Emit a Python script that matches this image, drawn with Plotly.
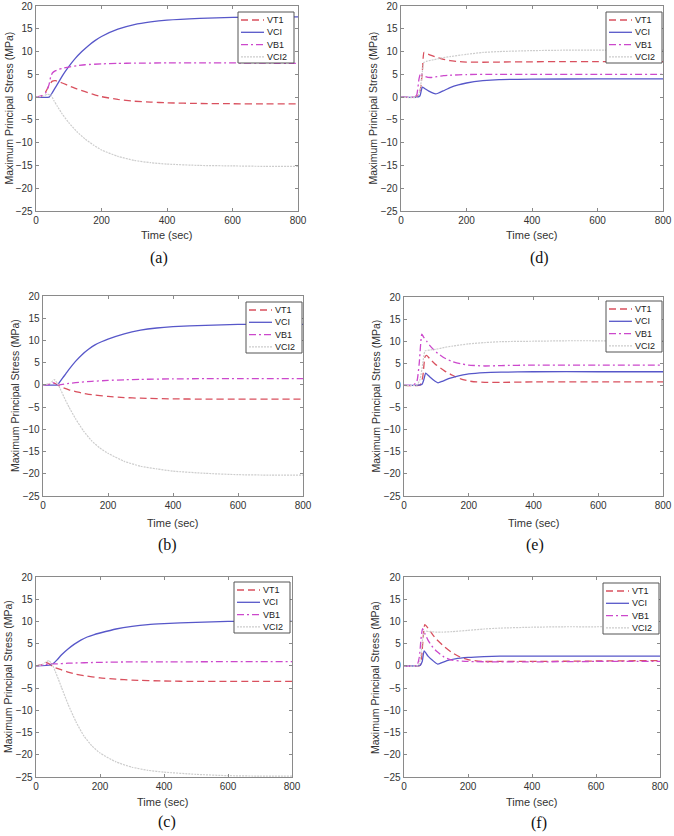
import plotly.graph_objects as go

W, H = 674, 836

# ---------------- data ----------------
series_names = ["VT1", "VCI", "VB1", "VCI2"]
x_ticks = [0, 200, 400, 600, 800]
y_ticks = [-25, -20, -15, -10, -5, 0, 5, 10, 15, 20]
panel_labels = ["(a)", "(b)", "(c)", "(d)", "(e)", "(f)"]

# Panel (a)
a_vt1_t = [0, 20, 30, 40, 50, 60, 80, 100, 125, 150, 175, 200, 250, 300, 350, 400, 500, 600, 700, 800]
a_vt1_v = [0, 0.3, 1.2, 2.6, 3.5, 3.6, 3.1, 2.5, 1.8, 1.2, 0.6, 0.1, -0.5, -0.9, -1.1, -1.25, -1.4, -1.45, -1.5, -1.5]
a_vci_t = [0, 40, 50, 60, 70, 80, 90, 100, 120, 140, 160, 180, 200, 250, 300, 350, 400, 500, 600, 700, 800]
a_vci_v = [0, 0, 1.0, 2.2, 3.4, 4.6, 5.7, 6.7, 8.5, 10.0, 11.3, 12.4, 13.3, 14.9, 15.9, 16.5, 16.9, 17.3, 17.5, 17.55, 17.6]
a_vb1_t = [0, 15, 30, 40, 45, 50, 60, 70, 80, 100, 125, 150, 200, 250, 300, 400, 500, 600, 700, 800]
a_vb1_v = [0, 0.2, 1.0, 2.8, 4.5, 5.3, 5.8, 6.1, 6.3, 6.6, 6.9, 7.1, 7.3, 7.4, 7.45, 7.5, 7.5, 7.5, 7.45, 7.4]
a_vci2_t = [0, 20, 35, 45, 55, 65, 80, 100, 125, 150, 175, 200, 250, 300, 350, 400, 500, 600, 700, 800]
a_vci2_v = [0, 0.2, 0.6, 0.5, -0.8, -2.0, -3.7, -5.6, -7.6, -9.2, -10.5, -11.6, -13.0, -13.9, -14.4, -14.7, -15.0, -15.1, -15.2, -15.2]

# Panel (b)
b_vt1_t = [0, 20, 30, 40, 50, 60, 80, 100, 125, 150, 200, 250, 300, 400, 500, 600, 800]
b_vt1_v = [0, 0.1, 0.4, 0.2, -0.2, -0.6, -1.1, -1.5, -1.9, -2.2, -2.6, -2.85, -3.0, -3.15, -3.2, -3.2, -3.2]
b_vci_t = [0, 45, 50, 60, 70, 80, 100, 120, 140, 160, 180, 200, 250, 300, 350, 400, 500, 600, 700, 800]
b_vci_v = [0, 0, 0.5, 1.5, 2.5, 3.5, 5.3, 6.8, 8.0, 9.0, 9.7, 10.3, 11.5, 12.3, 12.8, 13.1, 13.4, 13.6, 13.6, 13.6]
b_vb1_t = [0, 20, 30, 40, 50, 75, 100, 150, 200, 250, 300, 400, 500, 600, 800]
b_vb1_v = [0, 0.1, 0.5, 0.2, 0.0, 0.3, 0.5, 0.8, 1.0, 1.15, 1.25, 1.35, 1.4, 1.4, 1.4]
b_vci2_t = [0, 20, 30, 35, 45, 55, 65, 80, 100, 125, 150, 175, 200, 250, 300, 350, 400, 500, 600, 700, 800]
b_vci2_v = [0, 0.3, 0.9, 1.2, 0.3, -1.2, -2.8, -5.0, -7.6, -10.4, -12.6, -14.2, -15.4, -17.2, -18.3, -18.9, -19.4, -19.9, -20.2, -20.3, -20.3]

# Panel (c)
c_vt1_t = [0, 20, 30, 40, 50, 60, 80, 100, 125, 150, 200, 250, 300, 400, 500, 600, 800]
c_vt1_v = [0, 0.3, 0.8, 0.5, 0.0, -0.4, -0.9, -1.4, -1.9, -2.2, -2.7, -3.0, -3.2, -3.4, -3.5, -3.5, -3.5]
c_vci_t = [0, 45, 55, 65, 80, 100, 120, 140, 160, 180, 200, 250, 300, 350, 400, 500, 600, 700, 800]
c_vci_v = [0, 0.2, 0.6, 1.3, 2.5, 3.8, 4.9, 5.8, 6.5, 7.0, 7.4, 8.3, 8.9, 9.3, 9.5, 9.8, 10.0, 10.0, 10.0]
c_vb1_t = [0, 30, 45, 60, 100, 200, 300, 400, 600, 800]
c_vb1_v = [0, 0.3, 0.5, 0.45, 0.6, 0.8, 0.9, 0.9, 0.95, 0.95]
c_vci2_t = [0, 20, 30, 40, 50, 60, 70, 80, 100, 125, 150, 175, 200, 250, 300, 350, 400, 500, 600, 700, 800]
c_vci2_v = [0, 0.3, 0.8, 1.2, 0.4, -1.2, -3.0, -4.9, -8.6, -12.6, -15.8, -18.0, -19.6, -21.6, -22.8, -23.5, -23.9, -24.4, -24.7, -24.8, -24.8]

# Panel (d)
d_vt1_t = [0, 45, 55, 60, 65, 70, 75, 90, 110, 130, 150, 175, 200, 250, 300, 400, 500, 600, 800]
d_vt1_v = [0, 0, 0.5, 2, 5.5, 9.8, 9.7, 9.2, 8.7, 8.3, 8.0, 7.8, 7.7, 7.65, 7.7, 7.75, 7.8, 7.8, 7.8]
d_vci_t = [0, 50, 58, 65, 72, 85, 100, 105, 115, 130, 150, 175, 200, 250, 300, 400, 600, 800]
d_vci_v = [0, 0, 0.3, 2.2, 1.9, 1.3, 0.8, 0.7, 0.9, 1.4, 2.1, 2.7, 3.1, 3.6, 3.85, 3.95, 4.0, 4.0]
d_vb1_t = [0, 40, 48, 55, 60, 65, 75, 90, 110, 130, 150, 200, 300, 400, 600, 800]
d_vb1_v = [0, 0, 0.5, 4.0, 5.3, 4.9, 4.5, 4.3, 4.5, 4.7, 4.8, 4.95, 5.0, 5.0, 5.0, 5.0]
d_vci2_t = [0, 50, 58, 65, 70, 80, 100, 125, 150, 200, 250, 300, 400, 500, 600, 700, 800]
d_vci2_v = [0, 0, 1.5, 5.5, 7.6, 7.9, 8.2, 8.6, 8.9, 9.4, 9.8, 10.0, 10.2, 10.3, 10.3, 10.3, 10.3]

# Panel (e)
e_vt1_t = [0, 50, 58, 65, 70, 80, 100, 125, 150, 175, 200, 225, 250, 300, 400, 600, 800]
e_vt1_v = [0, 0.1, 2.0, 6.5, 6.8, 6.0, 4.6, 3.3, 2.3, 1.5, 1.0, 0.8, 0.7, 0.7, 0.8, 0.8, 0.8]
e_vci_t = [0, 55, 62, 67, 80, 95, 105, 120, 140, 160, 200, 250, 300, 400, 600, 800]
e_vci_v = [0, 0.2, 1.5, 2.8, 1.9, 1.0, 0.6, 1.0, 1.6, 2.0, 2.6, 2.9, 3.0, 3.1, 3.1, 3.1]
e_vb1_t = [0, 30, 40, 47, 55, 60, 70, 80, 100, 125, 150, 175, 200, 250, 300, 400, 600, 800]
e_vb1_v = [0, 0.1, 1.0, 5.0, 11.6, 11.0, 10.0, 9.0, 7.5, 6.2, 5.4, 4.9, 4.6, 4.4, 4.5, 4.6, 4.6, 4.6]
e_vci2_t = [0, 40, 50, 58, 65, 80, 100, 125, 150, 200, 250, 300, 400, 500, 600, 800]
e_vci2_v = [0, 0.1, 1.5, 5.0, 7.8, 8.0, 8.2, 8.6, 8.9, 9.4, 9.7, 9.9, 10.0, 10.1, 10.1, 10.1]

# Panel (f)
f_vt1_t = [0, 50, 55, 60, 65, 75, 90, 100, 125, 150, 175, 200, 250, 300, 400, 600, 800]
f_vt1_v = [0, 0.1, 2.0, 6.5, 9.3, 8.5, 7.0, 6.1, 4.4, 3.0, 2.0, 1.4, 1.0, 1.0, 1.0, 1.1, 1.2]
f_vci_t = [0, 50, 57, 63, 75, 90, 105, 120, 140, 160, 200, 250, 300, 400, 600, 800]
f_vci_v = [0, 0.1, 1.0, 3.4, 2.2, 1.2, 0.4, 0.8, 1.3, 1.6, 1.9, 2.1, 2.2, 2.2, 2.2, 2.2]
f_vb1_t = [0, 40, 48, 53, 58, 65, 75, 90, 100, 125, 150, 200, 300, 400, 600, 800]
f_vb1_v = [0, 0.1, 2.0, 6.0, 8.4, 7.3, 5.8, 4.2, 3.4, 2.0, 1.3, 1.0, 0.9, 0.9, 1.0, 1.0]
f_vci2_t = [0, 45, 52, 58, 65, 80, 100, 120, 150, 200, 250, 300, 400, 500, 600, 700, 800]
f_vci2_v = [0, 0.1, 2.0, 6.0, 7.8, 7.7, 7.6, 7.6, 7.7, 8.0, 8.3, 8.5, 8.7, 8.8, 8.8, 8.9, 8.9]

# ---------------- styling ----------------
COLORS = {"VT1": "#d9505e", "VCI": "#5757c9", "VB1": "#cc48cc", "VCI2": "#cdcdcd"}
DASHES = {"VT1": "7px,4px", "VB1": "7px,3px,2px,3px", "VCI": "solid", "VCI2": "2px,1px"}
WIDTHS = {"VT1": 1.3, "VCI": 1.3, "VB1": 1.3, "VCI2": 1.2}
AXC = "#8a8a8a"
SANS = "Liberation Sans, Arial, sans-serif"
SERIF = "Liberation Serif, Times New Roman, serif"

# plot-area pixel boxes (left, top, right, bottom) and page layout items
panels = [
    dict(lbl="(a)", box=(36, 6, 298, 211), data=[(a_vt1_t, a_vt1_v), (a_vci_t, a_vci_v), (a_vb1_t, a_vb1_v), (a_vci2_t, a_vci2_v)],
         ytitle_x=8, xtitle=(167, 235), cap=(159, 258), leg_r=4, leg_t=6),
    dict(lbl="(b)", box=(43, 296, 303, 496), data=[(b_vt1_t, b_vt1_v), (b_vci_t, b_vci_v), (b_vb1_t, b_vb1_v), (b_vci2_t, b_vci2_v)],
         ytitle_x=15, xtitle=(173, 523), cap=(167, 545), leg_r=1, leg_t=6),
    dict(lbl="(c)", box=(36, 577, 292, 777), data=[(c_vt1_t, c_vt1_v), (c_vci_t, c_vci_v), (c_vb1_t, c_vb1_v), (c_vci2_t, c_vci2_v)],
         ytitle_x=8, xtitle=(163, 802), cap=(167, 822), leg_r=2, leg_t=5),
    dict(lbl="(d)", box=(401, 6, 663, 211), data=[(d_vt1_t, d_vt1_v), (d_vci_t, d_vci_v), (d_vb1_t, d_vb1_v), (d_vci2_t, d_vci2_v)],
         ytitle_x=372, xtitle=(532, 235), cap=(539, 258), leg_r=1, leg_t=6),
    dict(lbl="(e)", box=(404, 297, 663, 496), data=[(e_vt1_t, e_vt1_v), (e_vci_t, e_vci_v), (e_vb1_t, e_vb1_v), (e_vci2_t, e_vci2_v)],
         ytitle_x=376, xtitle=(534, 523), cap=(535, 545), leg_r=1, leg_t=4),
    dict(lbl="(f)", box=(404, 577, 660, 777), data=[(f_vt1_t, f_vt1_v), (f_vci_t, f_vci_v), (f_vb1_t, f_vb1_v), (f_vci2_t, f_vci2_v)],
         ytitle_x=375, xtitle=(532, 802), cap=(539, 823), leg_r=1, leg_t=6),
]


def px(x):
    return x / W


def py(y):
    return 1 - y / H


fig = go.Figure()
layout = dict(
    width=W, height=H, margin=dict(l=0, r=0, t=0, b=0),
    paper_bgcolor="white", plot_bgcolor="white", showlegend=False,
    font=dict(family=SANS, size=10, color="#333333"),
)
shapes, annotations = [], []

for i, p in enumerate(panels):
    n = "" if i == 0 else str(i + 1)
    L, T, R, B = p["box"]
    for name, (t, v) in zip(series_names, p["data"]):
        fig.add_trace(go.Scatter(
            x=t, y=v, mode="lines", name=name, xaxis="x" + n, yaxis="y" + n,
            line=dict(color=COLORS[name], width=WIDTHS[name], dash=DASHES[name], shape="spline", smoothing=0.5),
            hoverinfo="skip"))
    common = dict(showgrid=False, zeroline=False, showline=True, linecolor=AXC, linewidth=1.3,
                  mirror="ticks", ticks="inside", ticklen=3, tickcolor=AXC, tickwidth=1,
                  tickfont=dict(family=SANS, size=10, color="#333333"), automargin=False, fixedrange=True)
    layout["xaxis" + n] = dict(common, domain=[px(L), px(R)], range=[0, 800], tickvals=x_ticks,
                               anchor="y" + n)
    layout["yaxis" + n] = dict(common, domain=[py(B), py(T)], range=[-25, 20], tickvals=y_ticks,
                               anchor="x" + n)
    # axis titles and caption
    annotations.append(dict(xref="paper", yref="paper", x=px(p["ytitle_x"]), y=py((T + B) / 2),
                            text="Maximum Principal Stress (MPa)", textangle=-90, showarrow=False,
                            xanchor="center", yanchor="middle", font=dict(family=SANS, size=10.5, color="#333333")))
    annotations.append(dict(xref="paper", yref="paper", x=px(p["xtitle"][0]), y=py(p["xtitle"][1]),
                            text="Time (sec)", showarrow=False, xanchor="center", yanchor="middle",
                            font=dict(family=SANS, size=11, color="#333333")))
    annotations.append(dict(xref="paper", yref="paper", x=px(p["cap"][0]), y=py(p["cap"][1]),
                            text=p["lbl"], showarrow=False, xanchor="center", yanchor="middle",
                            font=dict(family=SERIF, size=16, color="#111111")))
    # legend box (drawn in pixel space)
    lw, lh = 56, 51
    lr = R - p["leg_r"]
    ll = lr - lw
    lt = T + p["leg_t"]
    lb = lt + lh
    shapes.append(dict(type="rect", xref="paper", yref="paper", x0=px(ll), x1=px(lr), y0=py(lb), y1=py(lt),
                       line=dict(color="#555555", width=1), fillcolor="white", layer="above"))
    for k, name in enumerate(series_names):
        yy = lt + 8 + k * 12.3
        shapes.append(dict(type="line", xref="paper", yref="paper", x0=px(ll + 3), x1=px(ll + 26),
                           y0=py(yy), y1=py(yy), layer="above",
                           line=dict(color=COLORS[name], width=WIDTHS[name], dash=DASHES[name])))
        annotations.append(dict(xref="paper", yref="paper", x=px(ll + 27), y=py(yy), text=name,
                                showarrow=False, xanchor="left", yanchor="middle",
                                font=dict(family=SANS, size=9, color="#222222")))

layout["shapes"] = shapes
layout["annotations"] = annotations
fig.update_layout(**layout)
fig.write_html("out.html", config={"displayModeBar": False, "staticPlot": True},
               post_script="document.body.style.margin='0px';document.body.style.overflow='hidden';")
